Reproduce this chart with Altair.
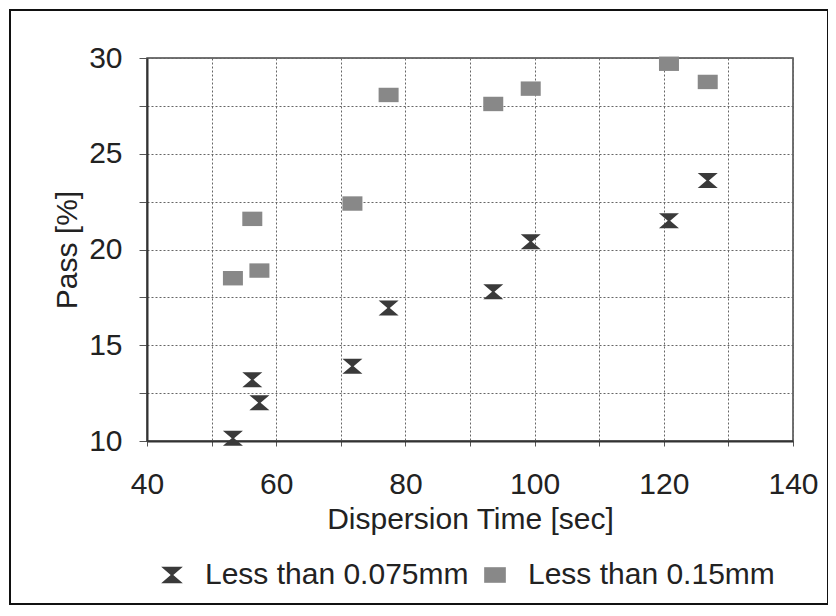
import altair as alt
import pandas as pd

# ---- data ----
dispersion_time = [53.3, 56.3, 57.4, 71.8, 77.4, 93.6, 99.4, 120.8, 126.8]
pass_0075 = [10.15, 13.2, 12.0, 13.9, 16.95, 17.8, 20.4, 21.5, 23.6]
pass_015 = [18.5, 21.6, 18.9, 22.4, 28.07, 27.6, 28.4, 29.7, 28.75]
series_names = ["Less than 0.075mm", "Less than 0.15mm"]
x_ticks = [40, 50, 60, 70, 80, 90, 100, 110, 120, 130, 140]
y_ticks = [10, 12.5, 15, 17.5, 20, 22.5, 25, 27.5, 30]

rows = []
for t, v in zip(dispersion_time, pass_0075):
    rows.append({"time": t, "pass": v, "series": series_names[0]})
for t, v in zip(dispersion_time, pass_015):
    rows.append({"time": t, "pass": v, "series": series_names[1]})
df = pd.DataFrame(rows)

HOURGLASS = "M-1,-0.75L1,-0.75L0.12,0L1,0.75L-1,0.75L-0.12,0Z"
SQUARE = "M-1,-0.72L1,-0.72L1,0.72L-1,0.72Z"
FONT = "Liberation Sans"
TXT = "#222222"
FS = 30

legend_opts = dict(title=None, orient="none", direction="horizontal",
                   legendX=10, legendY=502, symbolSize=470,
                   labelOffset=18, columnPadding=11, labelLimit=0,
                   labelFontSize=FS, labelFont=FONT, labelColor=TXT,
                   symbolStrokeWidth=0, padding=0)

points = alt.Chart(df).mark_point(filled=True, opacity=1, strokeWidth=0).encode(
    x=alt.X("time:Q",
            scale=alt.Scale(domain=[40, 140], nice=False, zero=False),
            axis=alt.Axis(values=x_ticks,
                          labelExpr="datum.value % 20 === 0 ? datum.label : ''",
                          title="Dispersion Time [sec]", labelFlush=False,
                          tickSize=5, labelPadding=23, titlePadding=5)),
    y=alt.Y("pass:Q",
            scale=alt.Scale(domain=[10, 30], nice=False, zero=False),
            axis=alt.Axis(values=y_ticks,
                          labelExpr="datum.value % 5 === 0 ? datum.label : ''",
                          title="Pass [%]", labelFlush=False,
                          tickSize=8, labelPadding=17, titlePadding=6)),
    color=alt.Color("series:N",
                    scale=alt.Scale(domain=series_names, range=["#3a3a3a", "#888888"]),
                    legend=alt.Legend(**legend_opts)),
    shape=alt.Shape("series:N",
                    scale=alt.Scale(domain=series_names, range=[HOURGLASS, SQUARE]),
                    legend=alt.Legend(**legend_opts)),
    size=alt.value(400),
)

frame = alt.Chart(alt.Data(values=[{}])).mark_rect(
    fill=None, stroke="#111111", strokeWidth=2
).encode(
    x=alt.value(-137), x2=alt.value(681), y=alt.value(-48), y2=alt.value(546)
)

chart = alt.layer(frame, points).properties(
    width=646, height=383,
    autosize=alt.AutoSizeParams(type="none"),
    padding={"left": 139, "top": 50, "right": 35, "bottom": 164},
    background="white",
).configure_view(
    stroke="#444444", strokeWidth=1.5
).configure_axis(
    grid=True, gridColor="#666666", gridDash=[2, 2], gridWidth=1, gridOpacity=1,
    domainColor="#333333", domainWidth=2,
    tickColor="#555555", tickWidth=1,
    labelFont=FONT, labelFontSize=FS, labelColor=TXT,
    titleFont=FONT, titleFontSize=FS, titleFontWeight="normal", titleColor=TXT,
)

chart.save("out.html", embed_options={"renderer": "svg", "actions": False})
